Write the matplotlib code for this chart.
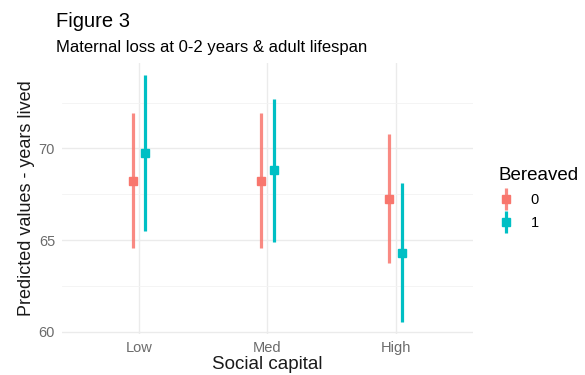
import matplotlib
matplotlib.use("Agg")
import matplotlib.pyplot as plt
from matplotlib.lines import Line2D
import numpy as np

# data
categories = ["Low", "Med", "High"]
groups = ["0", "1"]
pred_0 = [68.23, 68.23, 67.25]
low_0 = [64.55, 64.55, 63.73]
high_0 = [71.91, 71.91, 70.78]
pred_1 = [69.75, 68.82, 64.31]
low_1 = [65.51, 64.87, 60.54]
high_1 = [73.99, 72.72, 68.09]

colors = ["#F8766D", "#00BFC4"]
dodge = 0.05

plt.rcParams["font.family"] = ["Liberation Sans", "DejaVu Sans"]

fig = plt.figure(figsize=(5.85, 3.75), dpi=100)
ax = fig.add_axes([0.106, 0.109, 0.702, 0.723])

x = np.arange(len(categories))
series = [(pred_0, low_0, high_0), (pred_1, low_1, high_1)]
for i, (p, lo, hi) in enumerate(series):
    xs = x + (i - 0.5) * 2 * dodge
    ax.vlines(xs, lo, hi, color=colors[i], lw=2.3, alpha=0.85 if i == 0 else 1, zorder=3)
    ax.plot(xs, p, "s", color=colors[i], ms=5.3, zorder=4)

ax.set_xlim(-0.6, 2.6)
ax.set_ylim(59.87, 74.66)
ax.set_xticks(x)
ax.set_xticklabels(categories)
ax.set_yticks([60, 65, 70])
ax.set_yticks([62.5, 67.5, 72.5], minor=True)
ax.set_xticks([], minor=True)
ax.grid(True, which="major", color="#EBEBEB", lw=1.0, zorder=0)
ax.grid(True, which="minor", axis="y", color="#F3F3F3", lw=0.6, zorder=0)
ax.set_axisbelow(True)
for s in ax.spines.values():
    s.set_visible(False)
ax.tick_params(which="both", length=0, labelsize=10.5, labelcolor="#6B6B6B", pad=5)

ax.set_xlabel("Social capital", fontsize=13.5, labelpad=1, color="#1A1A1A")
ax.set_ylabel("Predicted values - years lived", fontsize=13, labelpad=3, color="#1A1A1A")

fig.text(0.096, 0.928, "Figure 3", fontsize=14.5, ha="left", va="baseline")
fig.text(0.096, 0.861, "Maternal loss at 0-2 years & adult lifespan", fontsize=12,
         ha="left", va="baseline")

handles = [
    (Line2D([0], [0], color=c, marker="|", ms=16, mew=2.3, ls="none", alpha=0.85 if k == 0 else 1),
     Line2D([0], [0], color=c, marker="s", ms=5.3, ls="none"))
    for k, c in enumerate(colors)
]
leg = fig.legend(handles, groups, title="Bereaved", loc="center left",
                 bbox_to_anchor=(0.842, 0.47), frameon=False, fontsize=10.5,
                 title_fontsize=13.5, handlelength=1.0, handletextpad=1.2,
                 labelspacing=0.6, borderaxespad=0)
leg._legend_box.align = "left"

fig.savefig("out.png", dpi=100)
